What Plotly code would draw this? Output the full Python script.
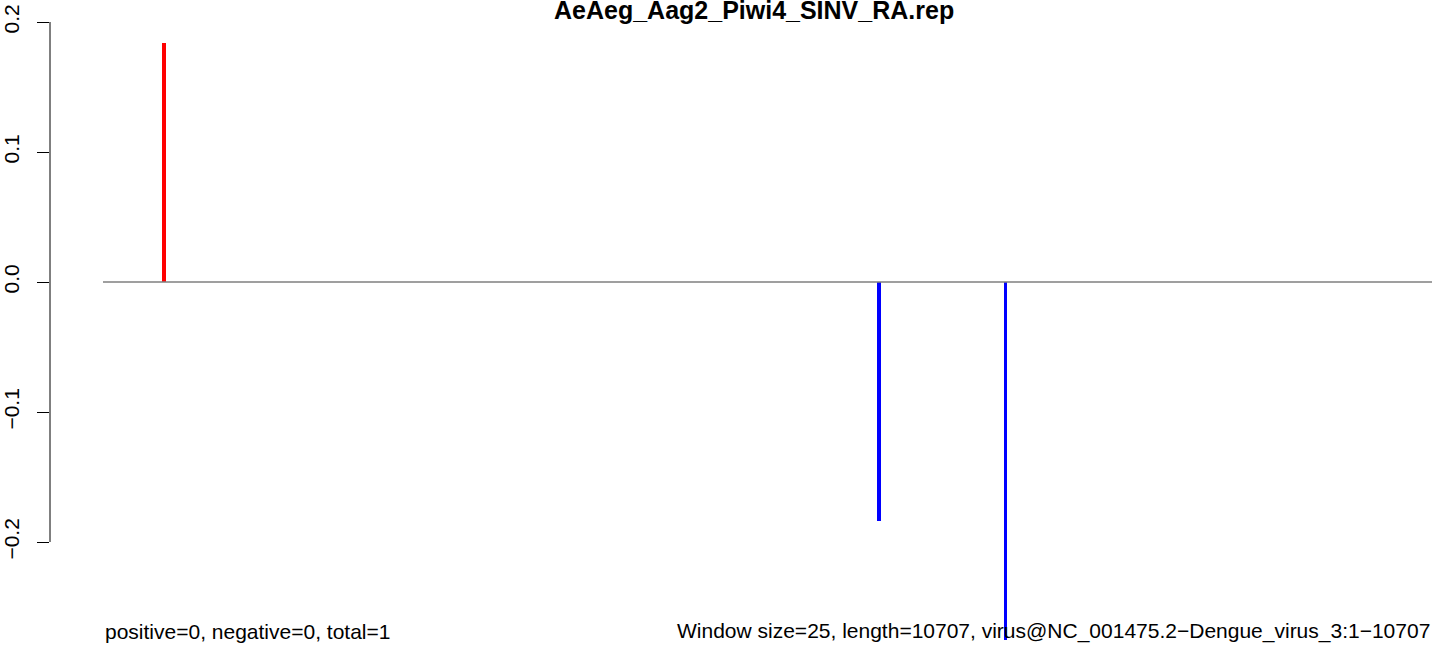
import plotly.graph_objects as go

# ---- data ----
title_text = "AeAeg_Aag2_Piwi4_SINV_RA.rep"
genome_length = 10707
positions = [491, 6252, 7272]
values = [0.184, -0.184, -0.275]
ytick_vals = [-0.2, -0.1, 0.0, 0.1, 0.2]
ytick_text = ["\u22120.2", "\u22120.1", "0.0", "0.1", "0.2"]
left_note = "positive=0, negative=0, total=1"
right_note = "Window size=25, length=10707, virus@NC_001475.2\u2212Dengue_virus_3:1\u221210707"

W, H = 1444, 649
FONT = "Liberation Sans"

colors = ["red" if v > 0 else "blue" for v in values]

fig = go.Figure()
# baseline at zero
fig.add_trace(go.Scatter(x=[0, genome_length], y=[0, 0], mode="lines",
                         line=dict(color="#7f7f7f", width=1.3),
                         hoverinfo="skip", showlegend=False))
fig.add_trace(go.Bar(x=positions, y=values, base=0, width=30,
                     marker=dict(color=colors, line=dict(width=0)),
                     showlegend=False))

fig.update_layout(
    width=W, height=H,
    margin=dict(l=50, r=0, t=0, b=0),
    paper_bgcolor="white", plot_bgcolor="white",
    font=dict(family=FONT, size=21, color="black"),
    bargap=0,
    xaxis=dict(visible=False, range=[-427.0, 10803.7]),
    yaxis=dict(range=[-0.28231, 0.21692], showgrid=False, zeroline=False,
               showline=False, ticks="outside", ticklen=12, tickwidth=1,
               tickcolor="black", tickvals=ytick_vals, ticktext=ytick_text,
               tickangle=-90, tickfont=dict(family=FONT, size=21, color="black"),
               ticklabelstandoff=10),
    shapes=[dict(type="line", xref="paper", yref="y", x0=0, x1=0,
                 y0=-0.2, y1=0.2, line=dict(color="black", width=1))],
    annotations=[
        dict(text=title_text, xref="paper", yref="paper",
             x=(754 - 50) / 1394, y=1 - 10 / H, xanchor="center", yanchor="middle",
             showarrow=False, font=dict(family=FONT, size=25, color="black", weight="bold")),
        dict(text=left_note, xref="x", yref="paper", x=0, y=1 - 631 / H,
             xanchor="left", yanchor="middle", showarrow=False,
             font=dict(family=FONT, size=21, color="black")),
        dict(text=right_note, xref="x", yref="paper", x=genome_length, y=1 - 631 / H,
             xanchor="right", yanchor="middle", showarrow=False,
             font=dict(family=FONT, size=21, color="black")),
    ],
)

fig.write_html("out.html", config={"displayModeBar": False},
               post_script="document.body.style.margin='0';document.body.style.overflow='hidden';")
